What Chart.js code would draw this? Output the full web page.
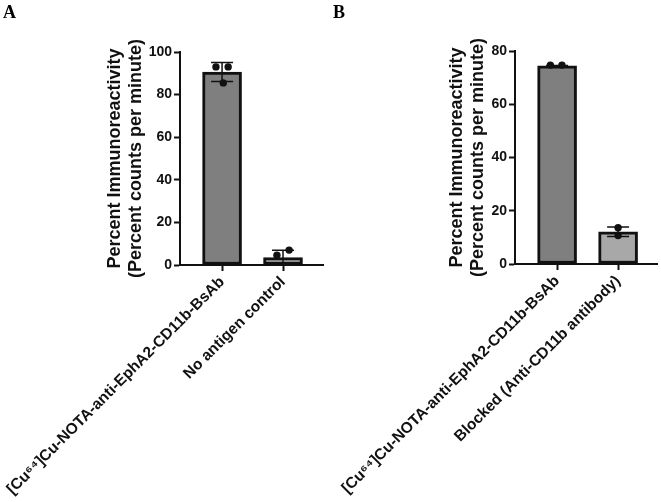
<!DOCTYPE html>
<html>
<head>
<meta charset="utf-8">
<script src="https://cdn.jsdelivr.net/npm/chart.js@4.4.0/dist/chart.umd.min.js"></script>
<style>
  html, body { margin: 0; padding: 0; background: #fff; }
  body { width: 661px; height: 502px; position: relative; overflow: hidden; }
  .panel { position: absolute; top: 0; height: 502px; }
  #pa { left: 0; width: 330px; }
  #pb { left: 330px; width: 331px; }
  .letter { position: absolute; font-family: "Liberation Serif", "Times New Roman", serif; font-weight: bold; font-size: 18px; color: #000; line-height: 1; }
</style>
</head>
<body>
<div class="panel" id="pa"><canvas id="ca" width="330" height="502"></canvas></div>
<div class="panel" id="pb"><canvas id="cb" width="331" height="502"></canvas></div>
<div class="letter" style="left:3px; top:3px;">A</div>
<div class="letter" style="left:333px; top:3px;">B</div>
<script>
// ---- Data ----
const categoriesA = ["[Cu\u2076\u2074]Cu-NOTA-anti-EphA2-CD11b-BsAb", "No antigen control"];
const meansA = [90.6, 3.5];
const sdA = [4.5, 3.4];
const pointsA = [[93.0, 93.0, 85.5], [7.0, 4.6, -0.9]];
const jitterA = [[-0.1, 0.1, 0.02], [0.1, -0.1, 0.0]];
const yTicksA = { max: 100, step: 20 };

const categoriesB = ["[Cu\u2076\u2074]Cu-NOTA-anti-EphA2-CD11b-BsAb", "Blocked (Anti-CD11b antibody)"];
const meansB = [74.4, 12.1];
const sdB = [0.2, 1.8];
const pointsB = [[74.7, 74.7], [13.6, 10.7]];
const jitterB = [[-0.11, 0.08], [0.0, 0.0]];
const yTicksB = { max: 80, step: 20 };

const yTitle = ["Percent Immunoreactivity", "(Percent counts per minute)"];
const barColors = ["#7f7f7f", "#a8a8a8"];

const FONT = "'Liberation Sans', Arial, Helvetica, sans-serif";
const INK = "#111111";

const errorBarPlugin = {
  id: 'errorBars',
  afterDatasetDraw(chart, args, opts) {
    if (args.index !== 0) return;
    const meta = chart.getDatasetMeta(0);
    const y = chart.scales.y;
    const ctx = chart.ctx;
    ctx.save();
    ctx.strokeStyle = INK;
    ctx.lineWidth = 1.5;
    meta.data.forEach((bar, i) => {
      const m = opts.means[i], s = opts.sds[i];
      const yt = y.getPixelForValue(m + s);
      const yb = y.getPixelForValue(m - s);
      const x = bar.x;
      const hw = 11;
      ctx.beginPath();
      ctx.moveTo(x, yt); ctx.lineTo(x, yb);
      ctx.moveTo(x - hw, yt); ctx.lineTo(x + hw, yt);
      ctx.moveTo(x - hw, yb); ctx.lineTo(x + hw, yb);
      ctx.stroke();
    });
    ctx.restore();
  }
};

function makeChart(id, cats, means, sds, pts, jit, yt, cfg) {
  const barData = means.map((v, i) => ({ x: i, y: v }));
  const scatterData = [];
  pts.forEach((arr, i) => arr.forEach((v, j) => scatterData.push({ x: i + jit[i][j], y: v })));
  return new Chart(document.getElementById(id), {
    type: 'bar',
    data: {
      datasets: [
        {
          type: 'bar',
          data: barData,
          backgroundColor: barColors,
          borderColor: INK,
          borderWidth: 3,
          borderSkipped: false,
          barThickness: 39,
          order: 2
        },
        {
          type: 'scatter',
          data: scatterData,
          pointRadius: 3.7,
          pointBackgroundColor: INK,
          pointBorderColor: INK,
          pointBorderWidth: 0,
          order: 1
        }
      ]
    },
    plugins: [errorBarPlugin],
    options: {
      responsive: false,
      animation: false,
      events: [],
      layout: { padding: { left: 0, top: cfg.top, right: cfg.right, bottom: 0 } },
      plugins: {
        legend: { display: false },
        tooltip: { enabled: false },
        errorBars: { means: means, sds: sds }
      },
      scales: {
        x: {
          type: 'linear',
          offset: false,
          min: cfg.xmin,
          max: cfg.xmax,
          afterBuildTicks: (s) => { s.ticks = cats.map((c, i) => ({ value: i })); },
          afterFit: (s) => { s.height = cfg.xh; s.paddingLeft = 0; s.paddingRight = 0; },
          ticks: {
            autoSkip: false,
            minRotation: 45,
            maxRotation: 45,
            padding: 2,
            color: INK,
            font: { family: FONT, size: 15.5, weight: 'bold' },
            callback: (v) => cats[v]
          },
          grid: { display: true, offset: false, drawOnChartArea: false, drawTicks: true, tickLength: 6, tickWidth: 2, tickColor: INK },
          border: { display: true, color: INK, width: 2 }
        },
        y: {
          min: 0,
          max: yt.max,
          afterFit: (s) => { s.width = cfg.yw; },
          ticks: {
            stepSize: yt.step,
            padding: 2,
            color: INK,
            font: { family: FONT, size: 14, weight: 'bold' }
          },
          grid: { display: true, drawOnChartArea: false, drawTicks: true, tickLength: 6, tickWidth: 2, tickColor: INK },
          border: { display: true, color: INK, width: 2 },
          title: {
            display: true,
            text: yTitle,
            color: INK,
            font: { family: FONT, size: 18, weight: 'bold', lineHeight: 1.2 },
            padding: { top: cfg.tpad, bottom: 0 }
          }
        }
      }
    }
  });
}

makeChart('ca', categoriesA, meansA, sdA, pointsA, jitterA, yTicksA,
  { top: 52, right: 7, xh: 237, yw: 180, tpad: 104, xmin: -0.69, xmax: 1.656 });
makeChart('cb', categoriesB, meansB, sdB, pointsB, jitterB, yTicksB,
  { top: 51, right: 4, xh: 238, yw: 185, tpad: 116, xmin: -0.69, xmax: 1.638 });
</script>
</body>
</html>
